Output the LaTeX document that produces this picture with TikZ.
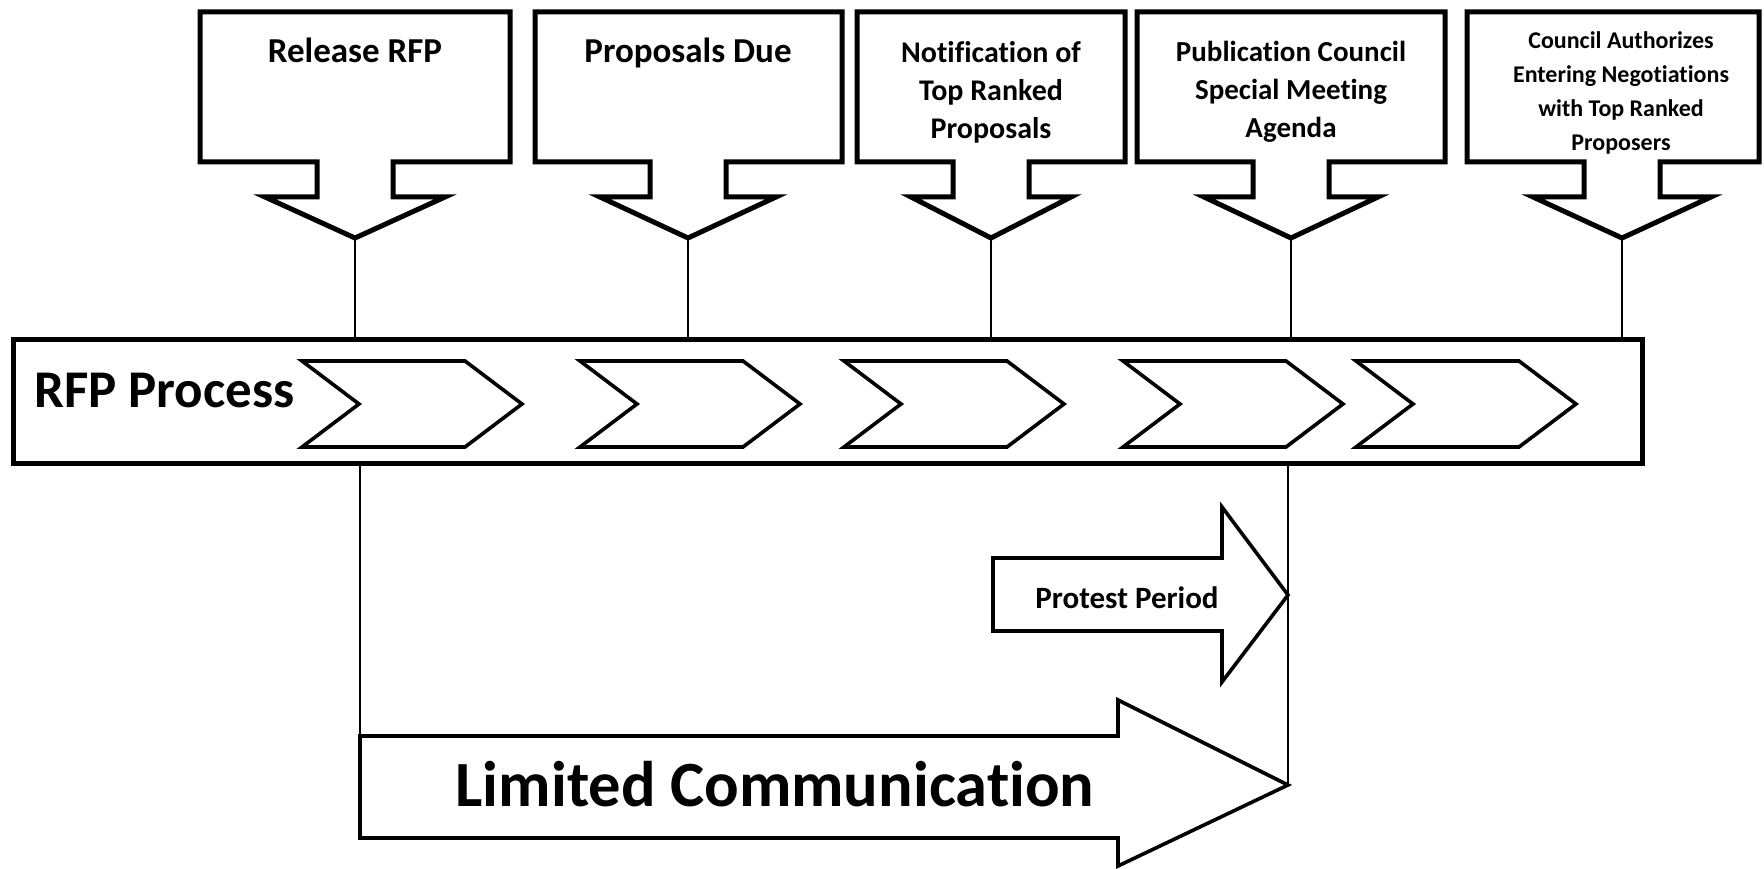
\documentclass[tikz,border=0pt]{standalone}
\usepackage{fontspec}
\setmainfont{Carlito}[Ligatures={NoCommon,NoContextual}]
\newcommand{\mycallout}[4]{%
  \draw[boxline] (#1,12) -- (#2,12) -- (#2,162) -- ({#3+38},162) -- ({#3+38},197)
    -- ({#3+#4},197) -- (#3,238) -- ({#3-#4},197) -- ({#3-38},197) -- ({#3-38},162)
    -- (#1,162) -- cycle;}
\newcommand{\mychev}[1]{%
  \draw[chevline] (#1,361) -- ({#1+163},361) -- ({#1+220},404) -- ({#1+163},447)
    -- (#1,447) -- ({#1+57},404) -- cycle;}
\begin{document}
\begin{tikzpicture}[x=1pt,y=-1pt,line join=miter,
  boxline/.style={draw=black,line width=5pt,fill=white},
  stemline/.style={draw=black,line width=2.6pt},
  chevline/.style={draw=black,line width=3.6pt,fill=white},
  bigarrow/.style={draw=black,line width=3.6pt,fill=white},
  lbl/.style={inner sep=0pt,align=center,text=black}]
\useasboundingbox (0,0) rectangle (1764,869);
\fill[white] (0,0) rectangle (1764,869);

% callouts
\mycallout{200}{510}{355}{90}
\mycallout{535}{842}{688}{88}
\mycallout{857}{1125}{991}{80}
\mycallout{1137}{1445}{1291}{87}
\mycallout{1467}{1759}{1622}{89}

\coordinate (tip1) at (355,238);
\coordinate (tip2) at (688,238);
\coordinate (tip3) at (991,238);
\coordinate (tip4) at (1291,238);
\coordinate (tip5) at (1622,238);

\node[lbl,font=\bfseries\fontsize{35}{42}\selectfont,anchor=base] (t1) at (355,63) {Release RFP};
\node[lbl,font=\bfseries\fontsize{35}{42}\selectfont,anchor=base] (t2) at (688,63) {Proposals Due};
\node[lbl,font=\bfseries\fontsize{30}{38}\selectfont] (t3) at (991,92) {Notification of\\Top Ranked\\Proposals};
\node[lbl,font=\bfseries\fontsize{29}{38}\selectfont] (t4) at (1291,92) {Publication Council\\Special Meeting\\Agenda};
\node[lbl,font=\bfseries\fontsize{24}{34}\selectfont] (t5) at (1621,93) {Council Authorizes\\Entering Negotiations\\with Top Ranked\\Proposers};

% band
\node[draw=black,line width=5pt,fill=white,minimum width=1629pt,minimum height=124pt,
  inner sep=0pt,anchor=north west] (band) at (11,337) {};
\node[lbl,font=\bfseries\fontsize{53}{60}\selectfont,anchor=base west] (rfp) at (34,407) {RFP Process};

\mychev{302}
\mychev{580}
\mychev{844}
\mychev{1123}
\mychev{1356}

% stems
\foreach \i in {1,...,5}{\draw[stemline] (tip\i) -- (tip\i |- band.north);}

% lower arrows
\coordinate (lcl) at (360,736);
\coordinate (lctip) at (1288,785);
\draw[stemline] (band.south -| lcl) -- (lcl);
\draw[stemline] (band.south -| lctip) -- (lctip);

\draw[bigarrow] (993,558) -- (1222,558) -- (1222,507) -- (1288,595) -- (1222,682)
  -- (1222,631) -- (993,631) -- cycle;
\node[lbl,font=\bfseries\fontsize{31}{37}\selectfont,anchor=base] (pp) at (1127,608) {Protest Period};

\draw[bigarrow] (lcl) -- (1118,736) -- (1118,700) -- (lctip) -- (1118,866)
  -- (1118,838) -- (360,838) -- cycle;
\node[lbl,font=\bfseries\fontsize{64.5}{72}\selectfont,anchor=base] (lc) at (775,806) {Limited Communication};
\end{tikzpicture}
\end{document}
